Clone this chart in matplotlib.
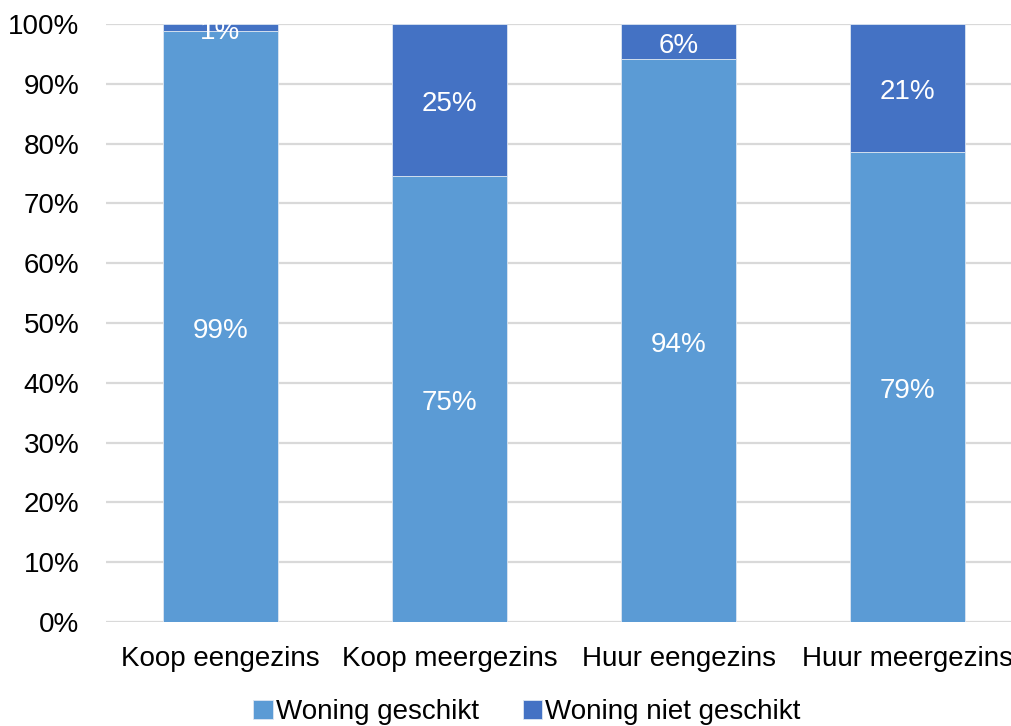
import matplotlib.pyplot as plt
import numpy as np

plt.rcParams['font.family'] = ['Liberation Sans', 'DejaVu Sans']

categories = ['Koop eengezins', 'Koop meergezins', 'Huur eengezins', 'Huur meergezins']
geschikt = [98.8, 74.6, 94.2, 78.6]
niet_geschikt = [1.2, 25.4, 5.8, 21.4]
series_names = ['Woning geschikt', 'Woning niet geschikt']

light = '#5B9BD5'
dark = '#4472C4'
fs = 20

fig = plt.figure(figsize=(10.11, 7.26), dpi=100)
ax = fig.add_axes([106 / 1011, 104 / 726, 916 / 1011, 598 / 726])

x = np.arange(len(categories))
b1 = ax.bar(x, geschikt, width=0.5, color=light, edgecolor='#DCE6F2', linewidth=0.6,
            label=series_names[0], zorder=3)
b2 = ax.bar(x, niet_geschikt, width=0.5, bottom=geschikt, color=dark, edgecolor='#DCE6F2',
            linewidth=0.6, label=series_names[1], zorder=3)

# segment labels, slightly below the middle like the original
for bars, vals, base in [(b1, geschikt, [0] * 4), (b2, niet_geschikt, geschikt)]:
    for rect, v, b in zip(bars, vals, base):
        ax.text(rect.get_x() + rect.get_width() / 2, b + v / 2 - 0.7, f'{v:.0f}%',
                ha='center', va='center', color='white', fontsize=fs, zorder=4)

ax.set_xlim(-0.5, 3.5)
ax.set_ylim(0, 100)
ax.set_yticks(np.arange(0, 101, 10))
ax.set_yticklabels([f'{t}%' for t in range(0, 101, 10)], fontsize=fs)
ax.set_xticks(x)
ax.set_xticklabels(categories, fontsize=fs)
ax.tick_params(axis='both', length=0)
ax.tick_params(axis='y', pad=19)
ax.tick_params(axis='x', pad=17)
ax.yaxis.grid(True, color='#D9D9D9', linewidth=1.6, zorder=0)
ax.set_axisbelow(True)
for s in ax.spines.values():
    s.set_visible(False)

fig.legend(handles=[b1, b2], loc='center', bbox_to_anchor=(527 / 1011, 1 - 712 / 726),
           ncol=2, frameon=False, fontsize=fs, handlelength=0.7, handleheight=0.7,
           handletextpad=0.1, columnspacing=1.6)

fig.savefig('out.png', dpi=100)
